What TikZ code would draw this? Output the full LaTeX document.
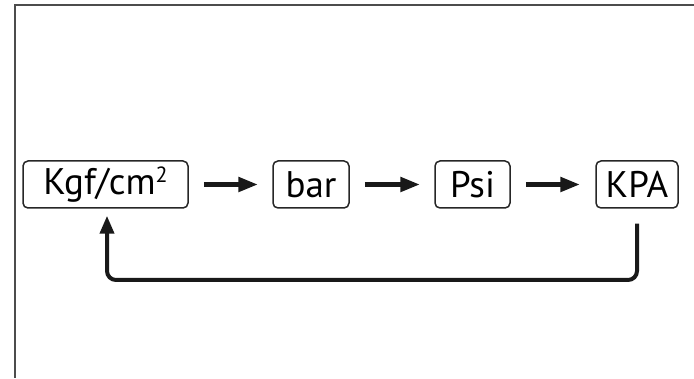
\documentclass[tikz,border=0pt]{standalone}
\usepackage{fontspec}
\setmainfont{PT Sans}
\usetikzlibrary{arrows.meta}
\newcommand{\mysup}[1]{\raisebox{12pt}{\fontsize{22}{24}\selectfont #1}}
\begin{document}
\begin{tikzpicture}[x=1pt,y=1pt,
  unitbox/.style={draw=black!85, line width=1.5pt, rounded corners=5pt, inner sep=0pt, minimum height=47pt, font=\fontsize{37}{42}\selectfont},
  flow/.style={line width=5pt, -{Triangle[length=20pt,width=14pt]}, black!90},
  back/.style={line width=4pt, rounded corners=9pt, -{Triangle[length=18pt,width=14pt]}, black!90}]
\useasboundingbox (0,0) rectangle (694,378);
\draw[line width=1.5pt, black!70] (694,373) -- (15,373) -- (15,0);
\node[unitbox, minimum width=165pt] (kgf) at (105.5,193.5) {Kgf/cm\mysup{2}};
\node[unitbox, minimum width=76pt] (bar) at (311,193.5) {bar};
\node[unitbox, minimum width=75pt] (psi) at (472.5,193.5) {Psi};
\node[unitbox, minimum width=82pt] (kpa) at (637,193.5) {KPA};
\draw[flow] ([xshift=15pt]kgf.east) -- ([xshift=-14pt]bar.west);
\draw[flow] ([xshift=15pt]bar.east) -- ([xshift=-14pt]psi.west);
\draw[flow] ([xshift=15pt]psi.east) -- ([xshift=-15pt]kpa.west);
\coordinate (c1) at (637,98);
\coordinate (c2) at (107,98);
\draw[back] ([yshift=-15pt]kpa.south) -- (c1) -- (c2) -- ([xshift=1.5pt,yshift=-7pt]kgf.south);
\end{tikzpicture}
\end{document}
